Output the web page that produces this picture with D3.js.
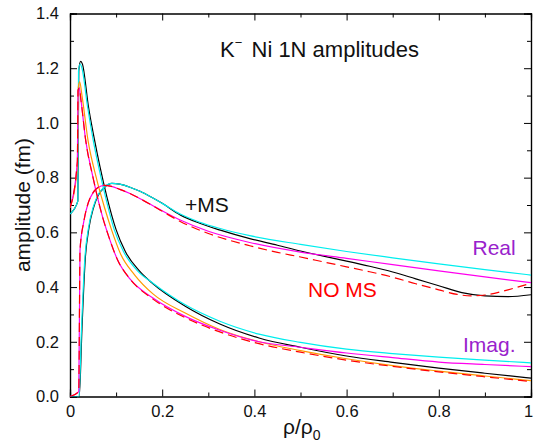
<!DOCTYPE html>
<html lang="en">
<head>
<meta charset="utf-8">
<title>K- Ni 1N amplitudes</title>
<script src="https://d3js.org/d3.v7.min.js"></script>
<style>
  body { margin: 0; background: #fff; }
  svg text { font-family: "Liberation Sans", Arial, Helvetica, sans-serif; }
</style>
</head>
<body>
<div id="chart"></div>
<script>
// x = rho/rho0, y = amplitude (fm)
var xTicks = [0, 0.2, 0.4, 0.6, 0.8, 1];
var yTicks = [0, 0.2, 0.4, 0.6, 0.8, 1.0, 1.2, 1.4];

var realCyan = [[0,0],[0.0195,0],[0.025,0.25],[0.032,0.5],[0.04,0.615],[0.05,0.69],[0.06,0.735],[0.074,0.765],[0.09,0.779],[0.108,0.776],[0.13,0.765],[0.152,0.75],[0.175,0.73],[0.2,0.706],[0.239,0.667],[0.28,0.638],[0.326,0.614],[0.39,0.588],[0.5,0.556],[0.6,0.53],[0.7,0.507],[0.8,0.485],[0.9,0.464],[1.0,0.444]];
var realBlack = [[0,0],[0.02,0],[0.026,0.25],[0.033,0.5],[0.041,0.615],[0.051,0.69],[0.061,0.735],[0.075,0.765],[0.091,0.779],[0.108,0.776],[0.13,0.765],[0.152,0.75],[0.175,0.73],[0.2,0.706],[0.239,0.664],[0.28,0.634],[0.326,0.608],[0.39,0.577],[0.45,0.553],[0.5,0.532],[0.55,0.513],[0.6,0.495],[0.65,0.476],[0.7,0.455],[0.75,0.43],[0.8,0.405],[0.85,0.38],[0.9,0.368],[0.95,0.365],[1.0,0.372]];
var realMagenta = [[0,0],[0.019,0.018],[0.0217,0.535],[0.03,0.64],[0.04,0.71],[0.05,0.745],[0.06,0.763],[0.075,0.772],[0.09,0.768],[0.108,0.757],[0.13,0.742],[0.15,0.725],[0.195,0.683],[0.239,0.645],[0.3,0.604],[0.39,0.563],[0.5,0.528],[0.6,0.505],[0.7,0.482],[0.8,0.459],[0.9,0.437],[1.0,0.416]];
var realRed = [[0,0],[0.019,0.018],[0.0217,0.535],[0.03,0.64],[0.04,0.71],[0.05,0.745],[0.06,0.763],[0.075,0.772],[0.09,0.768],[0.108,0.757],[0.13,0.742],[0.15,0.725],[0.195,0.682],[0.239,0.64],[0.3,0.596],[0.39,0.551],[0.45,0.527],[0.5,0.51],[0.55,0.492],[0.6,0.474],[0.65,0.456],[0.7,0.436],[0.75,0.412],[0.8,0.39],[0.84,0.373],[0.87,0.368],[0.9,0.371],[0.95,0.39],[1.0,0.414]];

var imagBlack = [[0,0.667],[0.017,0.714],[0.019,1.19],[0.023,1.225],[0.027,1.215],[0.04,1.06],[0.053,0.94],[0.065,0.84],[0.08,0.73],[0.1,0.61],[0.12,0.53],[0.15,0.46],[0.18,0.412],[0.25,0.33],[0.325,0.265],[0.41,0.214],[0.5,0.18],[0.6,0.148],[0.7,0.125],[0.8,0.104],[0.9,0.085],[1.0,0.067]];
var imagCyan = [[0,0.667],[0.017,0.714],[0.0185,1.19],[0.022,1.215],[0.026,1.2],[0.038,1.06],[0.05,0.94],[0.062,0.84],[0.077,0.73],[0.096,0.61],[0.116,0.53],[0.146,0.46],[0.18,0.414],[0.25,0.335],[0.325,0.275],[0.41,0.228],[0.5,0.198],[0.6,0.173],[0.7,0.157],[0.8,0.144],[0.9,0.133],[1.0,0.123]];
var imagMagenta = [[0,0.69],[0.016,0.86],[0.0175,1.12],[0.02,1.127],[0.024,1.08],[0.034,0.937],[0.05,0.8],[0.07,0.66],[0.085,0.58],[0.103,0.5],[0.13,0.43],[0.18,0.36],[0.25,0.293],[0.325,0.242],[0.41,0.2],[0.5,0.18],[0.6,0.159],[0.7,0.142],[0.8,0.126],[0.9,0.117],[1.0,0.109]];
var imagOrange = [[0,0.69],[0.016,0.84],[0.018,1.13],[0.021,1.15],[0.026,1.1],[0.039,0.937],[0.057,0.8],[0.075,0.69],[0.09,0.61],[0.11,0.52],[0.14,0.445],[0.18,0.375],[0.25,0.305],[0.325,0.245],[0.41,0.2],[0.5,0.168],[0.6,0.138],[0.7,0.113],[0.8,0.093],[0.9,0.075],[1.0,0.058]];
var imagRed = [[0,0.69],[0.016,0.86],[0.0175,1.12],[0.02,1.127],[0.024,1.08],[0.034,0.937],[0.05,0.8],[0.07,0.66],[0.085,0.58],[0.103,0.5],[0.13,0.43],[0.18,0.356],[0.25,0.288],[0.325,0.236],[0.41,0.193],[0.5,0.162],[0.6,0.133],[0.7,0.11],[0.8,0.09],[0.9,0.072],[1.0,0.055]];

var series = [
    {d: realBlack, color: "#000000"},
    {d: imagBlack, color: "#000000"},
    {d: realCyan, color: "#00eeee"},
    {d: imagCyan, color: "#00eeee"},
    {d: imagOrange, color: "#ff9900"},
    {d: realMagenta, color: "#ff00ee"},
    {d: imagMagenta, color: "#ff00ee"},
    {d: realRed, color: "#ff0000", dash: "9,5"},
    {d: imagRed, color: "#ff0000", dash: "9,5"}
];

var W = 534, H = 448;
var margin = {top: 13.5, right: 3, bottom: 51.5, left: 70};
var w = W - margin.left - margin.right,
    h = H - margin.top - margin.bottom;

var svg = d3.select("#chart").append("svg")
    .attr("width", W).attr("height", H);
var g = svg.append("g")
    .attr("transform", "translate(" + margin.left + "," + margin.top + ")");

var x = d3.scaleLinear().domain([0, 1]).range([0, w]);
var y = d3.scaleLinear().domain([0, 1.4]).range([h, 0]);

var minorX = d3.range(0, 1.0001, 0.1).filter(function(v) { return Math.round(v * 10) % 2 == 1; });
var minorY = d3.range(0, 1.4001, 0.1).filter(function(v) { return Math.round(v * 10) % 2 == 1; });

var xfmt = function(d) { return d == 0 ? "0" : d == 1 ? "1" : d3.format(".1f")(d); };

// axes, ticks pointing inward on all four sides
var xAxisG = g.append("g").attr("class", "axis").attr("transform", "translate(0," + h + ")")
    .call(d3.axisBottom(x).tickValues(xTicks).tickFormat(xfmt).tickSize(-7).tickPadding(9));
g.append("g").attr("class", "axis minor").attr("transform", "translate(0," + h + ")")
    .call(d3.axisBottom(x).tickValues(minorX).tickFormat("").tickSize(-4));
g.append("g").attr("class", "axis")
    .call(d3.axisTop(x).tickValues(xTicks).tickFormat("").tickSize(-7));
g.append("g").attr("class", "axis minor")
    .call(d3.axisTop(x).tickValues(minorX).tickFormat("").tickSize(-4));
g.append("g").attr("class", "axis")
    .call(d3.axisLeft(y).tickValues(yTicks).tickFormat(d3.format(".1f")).tickSize(-7).tickPadding(11));
g.append("g").attr("class", "axis minor")
    .call(d3.axisLeft(y).tickValues(minorY).tickFormat("").tickSize(-4));
g.append("g").attr("class", "axis").attr("transform", "translate(" + w + ",0)")
    .call(d3.axisRight(y).tickValues(yTicks).tickFormat("").tickSize(-7));
g.append("g").attr("class", "axis minor").attr("transform", "translate(" + w + ",0)")
    .call(d3.axisRight(y).tickValues(minorY).tickFormat("").tickSize(-4));

g.selectAll(".axis path.domain").attr("stroke", "#000").attr("stroke-width", 1.2);
g.selectAll(".axis line").attr("stroke", "#000").attr("stroke-width", 1);
g.selectAll(".axis text").attr("font-size", "16.5px").attr("fill", "#111")
    .style("font-family", "'Liberation Sans', Arial, sans-serif");
// last x label sits at the window edge, pull it in a little
xAxisG.selectAll(".tick text").filter(function(d) { return d == 1; }).attr("dx", "-3");

var line = d3.line()
    .x(function(d) { return x(d[0]); })
    .y(function(d) { return y(d[1]); })
    .curve(d3.curveMonotoneX);

g.append("defs").append("clipPath").attr("id", "clip")
    .append("rect").attr("width", w).attr("height", h);

g.append("g").attr("clip-path", "url(#clip)")
  .selectAll("path.curve").data(series).enter().append("path")
    .attr("class", "curve")
    .attr("d", function(s) { return line(s.d); })
    .attr("fill", "none")
    .attr("stroke", function(s) { return s.color; })
    .attr("stroke-width", 1.2)
    .attr("stroke-dasharray", function(s) { return s.dash || null; });

// labels
var title = svg.append("text").attr("x", 220).attr("y", 56.5)
    .attr("font-size", "22px").attr("fill", "#111");
title.append("tspan").text("K");
title.append("tspan").attr("font-size", "13px").attr("dx", 0).attr("dy", -10).text("\u2212");
title.append("tspan").attr("x", 251.5).attr("dy", 10).text("Ni 1N amplitudes");

svg.append("text").attr("x", 185).attr("y", 211.5).attr("font-size", "21px")
    .attr("fill", "#111").text("+MS");
svg.append("text").attr("x", 308).attr("y", 296.5).attr("font-size", "21px")
    .attr("fill", "#ff0000").text("NO MS");
svg.append("text").attr("x", 472.5).attr("y", 255).attr("font-size", "21px")
    .attr("fill", "#9922cc").text("Real");
svg.append("text").attr("x", 463).attr("y", 351.5).attr("font-size", "21px")
    .attr("fill", "#9922cc").text("Imag.");

var xl = svg.append("text").attr("x", 283).attr("y", 434).attr("font-size", "21px").attr("fill", "#111");
xl.append("tspan").text("\u03c1/\u03c1");
xl.append("tspan").attr("font-size", "14px").attr("dy", 6).text("0");

svg.append("text")
    .attr("transform", "translate(30," + (margin.top + h / 2) + ") rotate(-90)")
    .attr("text-anchor", "middle").attr("font-size", "21px").attr("fill", "#111")
    .text("amplitude (fm)");
</script>
</body>
</html>
